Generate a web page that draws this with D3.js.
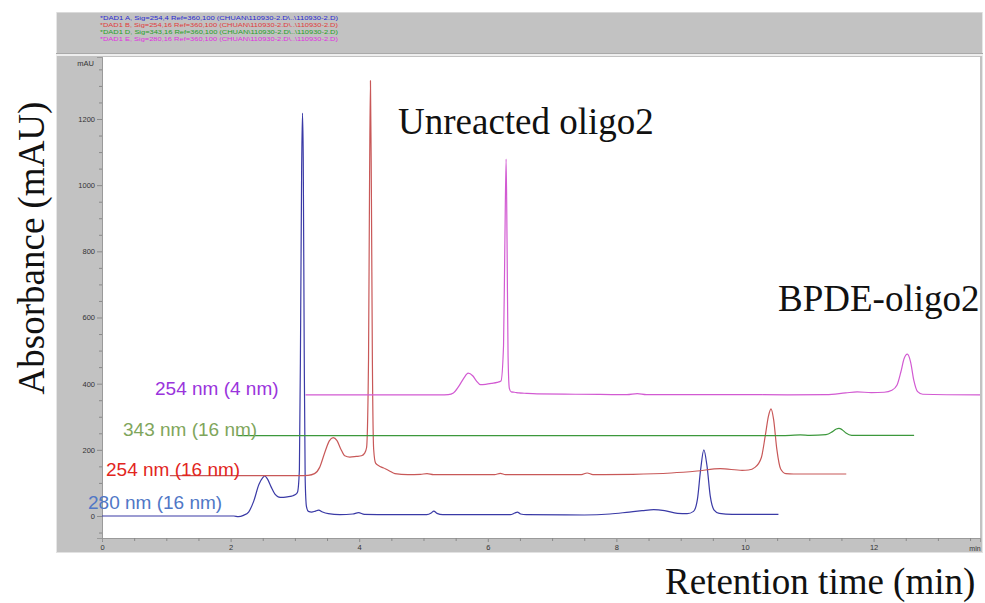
<!DOCTYPE html>
<html>
<head>
<meta charset="utf-8">
<script src="https://cdn.jsdelivr.net/npm/d3@7/dist/d3.min.js"></script>
<style>
  html, body { margin: 0; padding: 0; background: #fff; }
  svg { display: block; }
</style>
</head>
<body>
<div id="chart"></div>
<script>
// Chromatogram overlay: four detector signals, each stacked by a time and absorbance offset.

// Channel labels and colours
const seriesNames = ["280 nm (16 nm)", "254 nm (16 nm)", "343 nm (16 nm)", "254 nm (4 nm)"];
const traceColors = ["#3a3aa6", "#c85858", "#3c983c", "#d25ad2"];
const labelColors = ["#5077c6", "#e2261e", "#7fa65c", "#9a34dc"];

// Stacking offsets applied by the overlay view (min, mAU)
const timeShift = [0, 1.055, 2.11, 3.165];
const absShift = [0, 122, 243, 366];

// Signal 280 nm (16 nm): retention time (min) and absorbance (mAU)
const t280 = [0, 1.9, 2.05, 2.12, 2.2, 2.28, 2.36, 2.44, 2.5, 2.53, 2.57, 2.63, 2.69, 2.74, 2.8, 2.88, 2.95, 3.0, 3.04, 3.07, 3.09, 3.105, 3.118, 3.13, 3.145, 3.16, 3.18, 3.21, 3.26, 3.31, 3.37, 3.43, 3.52, 3.7, 3.9, 3.99, 4.08, 4.5, 5.05, 5.12, 5.16, 5.21, 5.3, 6.35, 6.42, 6.46, 6.51, 6.6, 7.5, 7.9, 8.2, 8.4, 8.58, 8.75, 8.95, 9.1, 9.2, 9.26, 9.31, 9.36, 9.41, 9.46, 9.52, 9.6, 9.8, 10.52];
const v280 = [0, 0, 0, -2, 2, 12, 45, 95, 116, 121, 113, 88, 66, 58, 56, 58, 60, 64, 72, 140, 600, 1050, 1218, 1080, 500, 110, 28, 14, 12, 14, 18, 12, 7, 4, 6, 10, 5, 4, 4, 9, 15, 8, 4, 4, 9, 12, 6, 4, 3, 6, 12, 16, 19, 16, 8, 7, 14, 50, 140, 200, 150, 60, 18, 8, 5, 5];

// Signal 254 nm (16 nm)
const t254b = [0, 2.0, 2.15, 2.25, 2.33, 2.41, 2.48, 2.54, 2.6, 2.66, 2.72, 2.8, 2.9, 2.98, 3.03, 3.06, 3.09, 3.105, 3.12, 3.135, 3.15, 3.17, 3.2, 3.25, 3.3, 3.35, 3.41, 3.5, 3.7, 3.9, 4.0, 4.1, 4.5, 5.05, 5.14, 5.22, 5.6, 6.4, 6.49, 6.58, 7.2, 7.8, 8.2, 8.56, 8.9, 9.0, 9.1, 9.2, 9.26, 9.31, 9.35, 9.39, 9.44, 9.5, 9.58, 9.7, 10.52];
const v254b = [0, 0, 1, 6, 25, 70, 105, 115, 106, 80, 60, 56, 58, 60, 68, 85, 350, 850, 1194, 850, 350, 80, 38, 30, 25, 21, 15, 6, 3, 4, 6, 3, 3, 3, 7, 3, 3, 3, 8, 3, 4, 8, 14, 21, 16, 17, 25, 55, 120, 180, 202, 170, 80, 20, 6, 5, 5];

// Signal 343 nm (16 nm)
const t343 = [0, 8.3, 8.6, 8.75, 8.9, 9.15, 9.25, 9.31, 9.35, 9.4, 9.46, 9.55, 10.52];
const v343 = [0, 0, 1, 2, 1, 3, 12, 20, 22, 18, 8, 1, 1];

// Signal 254 nm (4 nm)
const t254a = [0, 2.1, 2.22, 2.3, 2.38, 2.46, 2.53, 2.6, 2.66, 2.72, 2.8, 2.9, 2.98, 3.04, 3.08, 3.1, 3.12, 3.135, 3.15, 3.17, 3.2, 3.25, 3.32, 3.4, 3.6, 4.2, 5.0, 5.16, 5.3, 6.8, 7.5, 8.1, 8.4, 8.58, 8.8, 9.0, 9.12, 9.2, 9.26, 9.31, 9.36, 9.41, 9.46, 9.52, 9.6, 10.52];
const v254a = [0, 0, 1, 6, 25, 50, 66, 58, 42, 31, 32, 35, 38, 42, 150, 450, 713, 450, 120, 20, 9, 8, 6, 5, 3, 2, 1, 4, 1, 1, 0, 1, 6, 9, 7, 8, 14, 30, 70, 110, 123, 100, 45, 10, 2, 0];

// Acquisition header lines
const headerLines = [
  "*DAD1 A, Sig=254,4 Ref=360,100 (CHUAN\\110930-2.D\\..\\110930-2.D)",
  "*DAD1 B, Sig=254,16 Ref=360,100 (CHUAN\\110930-2.D\\..\\110930-2.D)",
  "*DAD1 D, Sig=343,16 Ref=360,100 (CHUAN\\110930-2.D\\..\\110930-2.D)",
  "*DAD1 E, Sig=280,16 Ref=360,100 (CHUAN\\110930-2.D\\..\\110930-2.D)"
];
const headerColors = ["#2828d0", "#e03a3a", "#25a025", "#e030e0"];

// Axis ticks
const yTicksMajor = [0, 200, 400, 600, 800, 1000, 1200];
const xTicksMajor = [0, 2, 4, 6, 8, 10, 12];

// Annotations
const peakNotes = ["Unreacted oligo2", "BPDE-oligo2"];
const yTitle = "Absorbance (mAU)";
const xTitle = "Retention time (min)";

const W = 985, H = 603;
const plot = { left: 102, right: 980, top: 57, bottom: 538 };

const svg = d3.select("#chart").append("svg").attr("width", W).attr("height", H);

// Instrument frame
svg.append("rect").attr("x", 56).attr("y", 12).attr("width", 927).attr("height", 541).attr("fill", "#c2c2c2");
svg.append("line").attr("x1", 56).attr("x2", 983).attr("y1", 12.5).attr("y2", 12.5).attr("stroke", "#dadada");
svg.append("line").attr("x1", 56.5).attr("x2", 56.5).attr("y1", 12).attr("y2", 553).attr("stroke", "#e6e6e6");
svg.append("line").attr("x1", 982.5).attr("x2", 982.5).attr("y1", 12).attr("y2", 553).attr("stroke", "#e6e6e6");
svg.append("line").attr("x1", 56).attr("x2", 983).attr("y1", 53.5).attr("y2", 53.5).attr("stroke", "#a9a9a9");
svg.append("line").attr("x1", 56).attr("x2", 983).attr("y1", 55).attr("y2", 55).attr("stroke", "#eeeeee").attr("stroke-width", 2);
svg.append("line").attr("x1", 56).attr("x2", 983).attr("y1", 552.5).attr("y2", 552.5).attr("stroke", "#e2e2e2");

// Header text, compact instrument font stretched to the line width
svg.append("g").selectAll("text").data(headerLines).join("text")
  .attr("x", 100).attr("y", (d, i) => 19.8 + i * 7.1)
  .attr("fill", (d, i) => headerColors[i])
  .attr("textLength", 238).attr("lengthAdjust", "spacingAndGlyphs")
  .style("font-family", "'Liberation Sans', Arial, sans-serif")
  .style("font-size", "6.2px")
  .text(d => d);

// Plot area
svg.append("rect").attr("x", plot.left).attr("y", plot.top)
  .attr("width", plot.right - plot.left).attr("height", plot.bottom - plot.top).attr("fill", "#fff");

const x = d3.scaleLinear().domain([0, 13.655]).range([plot.left, plot.right]);
const y = d3.scaleLinear().domain([-66.5, 1387.4]).range([plot.bottom, plot.top]);

// Y axis (left, in the grey margin)
const yAxis = d3.axisLeft(y).tickValues(yTicksMajor).tickSize(5).tickPadding(2).tickFormat(d3.format("d"));
const yMinor = d3.axisLeft(y).tickValues(d3.range(-50, 1351, 50).filter(v => v % 200 !== 0)).tickSize(3).tickFormat("");
const gy = svg.append("g").attr("transform", `translate(${plot.left},0)`).call(yAxis);
const gym = svg.append("g").attr("transform", `translate(${plot.left},0)`).call(yMinor);
[gy, gym].forEach(g => {
  g.select(".domain").attr("stroke", "#9a9a9a");
  g.selectAll(".tick line").attr("stroke", "#8a8a8a");
  g.selectAll(".tick text").attr("fill", "#333").style("font-family", "'Liberation Sans', Arial, sans-serif").style("font-size", "7.5px");
});
svg.append("text").attr("x", 94).attr("y", 66).attr("text-anchor", "end").attr("fill", "#333")
  .style("font-family", "'Liberation Sans', Arial, sans-serif").style("font-size", "7.5px").text("mAU");

// X axis (bottom strip)
const xAxis = d3.axisBottom(x).tickValues(xTicksMajor).tickSize(4).tickPadding(3).tickFormat(d3.format("d"));
const xMinor = d3.axisBottom(x).tickValues(d3.range(0.5, 13.6, 0.5).filter(v => v % 2 !== 0)).tickSize(3).tickFormat("");
const gx = svg.append("g").attr("transform", `translate(0,${plot.bottom})`).call(xAxis);
const gxm = svg.append("g").attr("transform", `translate(0,${plot.bottom})`).call(xMinor);
[gx, gxm].forEach(g => {
  g.select(".domain").attr("stroke", "#9a9a9a");
  g.selectAll(".tick line").attr("stroke", "#8a8a8a");
  g.selectAll(".tick text").attr("fill", "#333").style("font-family", "'Liberation Sans', Arial, sans-serif").style("font-size", "7.5px");
});
svg.append("text").attr("x", 975).attr("y", 551).attr("text-anchor", "middle").attr("fill", "#333")
  .style("font-family", "'Liberation Sans', Arial, sans-serif").style("font-size", "7px").text("min");

// Traces
const traces = [[t280, v280], [t254b, v254b], [t343, v343], [t254a, v254a]];
svg.append("clipPath").attr("id", "plotclip").append("rect")
  .attr("x", plot.left).attr("y", plot.top).attr("width", plot.right - plot.left).attr("height", plot.bottom - plot.top);

const line = d3.line().x(d => x(d[0])).y(d => y(d[1])).curve(d3.curveMonotoneX);
const gTraces = svg.append("g").attr("clip-path", "url(#plotclip)");
traces.forEach(([ts, vs], i) => {
  const pts = ts.map((t, j) => [t + timeShift[i], vs[j] + absShift[i]]);
  gTraces.append("path").datum(pts).attr("d", line)
    .attr("fill", "none").attr("stroke", traceColors[i]).attr("stroke-width", 1.2)
    .attr("stroke-linejoin", "round");
});

// Channel labels beside each baseline
const labelPos = [[88, 509], [106, 476], [123, 436], [155, 395]];
svg.append("g").selectAll("text").data(seriesNames).join("text")
  .attr("x", (d, i) => labelPos[i][0]).attr("y", (d, i) => labelPos[i][1])
  .attr("fill", (d, i) => labelColors[i])
  .style("font-family", "'Liberation Sans', Arial, sans-serif")
  .style("font-size", "19px")
  .text(d => d);

// Peak annotations
const serif = "'Liberation Serif', 'Times New Roman', serif";
svg.append("text").attr("x", 398).attr("y", 134).attr("fill", "#111")
  .style("font-family", serif).style("font-size", "37px").text(peakNotes[0]);
svg.append("text").attr("x", 778).attr("y", 311).attr("fill", "#111")
  .style("font-family", serif).style("font-size", "37px").text(peakNotes[1]);

// Axis titles
svg.append("text").attr("transform", "translate(44,248) rotate(-90)").attr("text-anchor", "middle").attr("fill", "#111")
  .style("font-family", serif).style("font-size", "37px").text(yTitle);
svg.append("text").attr("x", 665).attr("y", 594).attr("fill", "#111")
  .style("font-family", serif).style("font-size", "37px").text(xTitle);
</script>
</body>
</html>
